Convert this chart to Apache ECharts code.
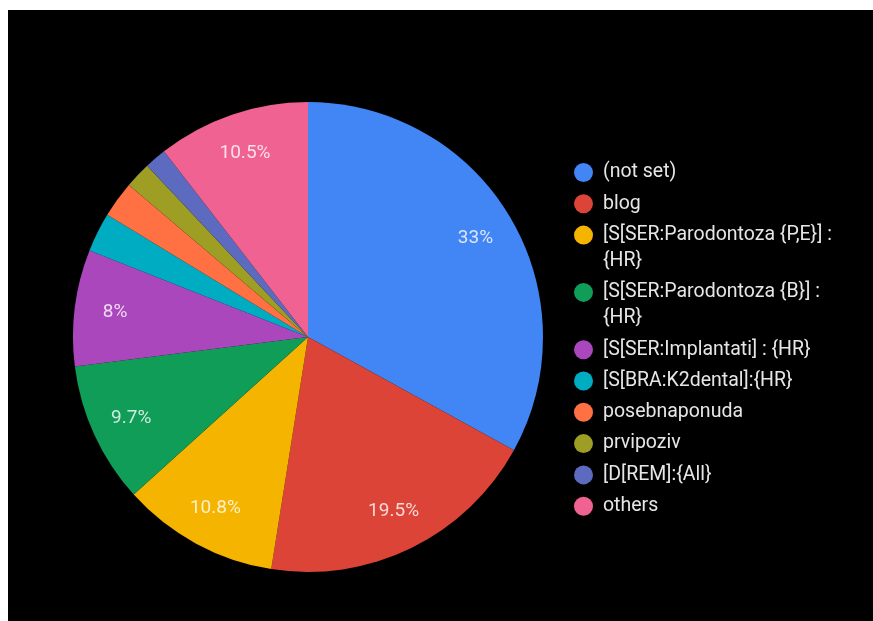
<!DOCTYPE html>
<html>
<head>
<meta charset="utf-8">
<title>Pie</title>
<script src="https://cdn.jsdelivr.net/npm/echarts@6/dist/echarts.min.js"></script>
<style>
  html, body { margin: 0; padding: 0; background: #fff; overflow: hidden; }
  #chart {
    position: fixed;
    left: 8px;
    top: 10px;
    right: 0;
    bottom: 0;
    background: #000;
  }
</style>
</head>
<body>
<div id="chart"></div>
<script>
// slice names, in drawing order (clockwise from 12 o'clock)
const names = [
  "(not set)",
  "blog",
  "[S[SER:Parodontoza {P,E}] : {HR}",
  "[S[SER:Parodontoza {B}] : {HR}",
  "[S[SER:Implantati] : {HR}",
  "[S[BRA:K2dental]:{HR}",
  "posebnaponuda",
  "prvipoziv",
  "[D[REM]:{All}",
  "others",
]
// share in percent
const values = [33, 19.5, 10.8, 9.7, 8, 2.7, 2.5, 1.8, 1.5, 10.5]
const colors = [
  "#4285F4",
  "#DB4437",
  "#F4B400",
  "#0F9D58",
  "#AB47BC",
  "#00ACC1",
  "#FF7043",
  "#9E9D24",
  "#5C6BC0",
  "#F06292",
]
// legend entries that wrap before "{HR}"
const wrapped = [
  "[S[SER:Parodontoza {P,E}] : {HR}",
  "[S[SER:Parodontoza {B}] : {HR}",
]
// labels only on slices at least this big
const labelMin = 5

const chart = echarts.init(document.getElementById("chart"))

const pieData = names.map((n, i) => ({ name: n, value: values[i] }))

// rich styles for the legend dots
const rich = {
  g: { width: 10, lineHeight: 26 },
  sp: { width: 29, lineHeight: 26 },
}
colors.forEach((c, i) => {
  rich["d" + i] = {
    width: 19,
    height: 19,
    borderRadius: 9.5,
    backgroundColor: c,
    lineHeight: 26,
    verticalAlign: "middle",
  }
})

const option = {
  color: colors,
  animation: false,
  legend: {
    orient: "vertical",
    left: 561,
    top: 149.5,
    padding: 0,
    itemGap: 5.3,
    itemWidth: 0,
    itemHeight: 0,
    icon: "none",
    data: names,
    textStyle: {
      color: "#e6e6e6",
      fontSize: 19.5,
      fontFamily: "Roboto",
      lineHeight: 26,
      rich: rich,
    },
    formatter: function (name) {
      const i = names.indexOf(name)
      let txt = name
      if (wrapped.indexOf(name) >= 0) {
        txt = name.replace(/ \{HR\}$/, "\n{sp| }{HR}")
      }
      return "{d" + i + "| }{g| }" + txt
    },
  },
  series: [
    {
      name: "share",
      type: "pie",
      center: [300, 327],
      radius: [0, 235],
      label: { show: false },
      labelLine: { show: false },
      itemStyle: { borderWidth: 0 },
      emphasis: { scale: false },
      data: pieData,
    },
    {
      // transparent ring used only to place the labels further out
      name: "labels",
      type: "pie",
      center: [300, 327],
      radius: [148, 235],
      silent: true,
      itemStyle: { color: "transparent", borderWidth: 0 },
      label: {
        show: true,
        position: "inside",
        color: "rgba(255,255,255,0.8)",
        fontSize: 19,
        fontFamily: "Roboto",
        padding: [5, 0, 0, 0],
        formatter: function (p) {
          return p.value >= labelMin ? p.value + "%" : ""
        },
      },
      labelLine: { show: false },
      data: pieData,
    },
  ],
}
chart.setOption(option)
</script>
</body>
</html>
